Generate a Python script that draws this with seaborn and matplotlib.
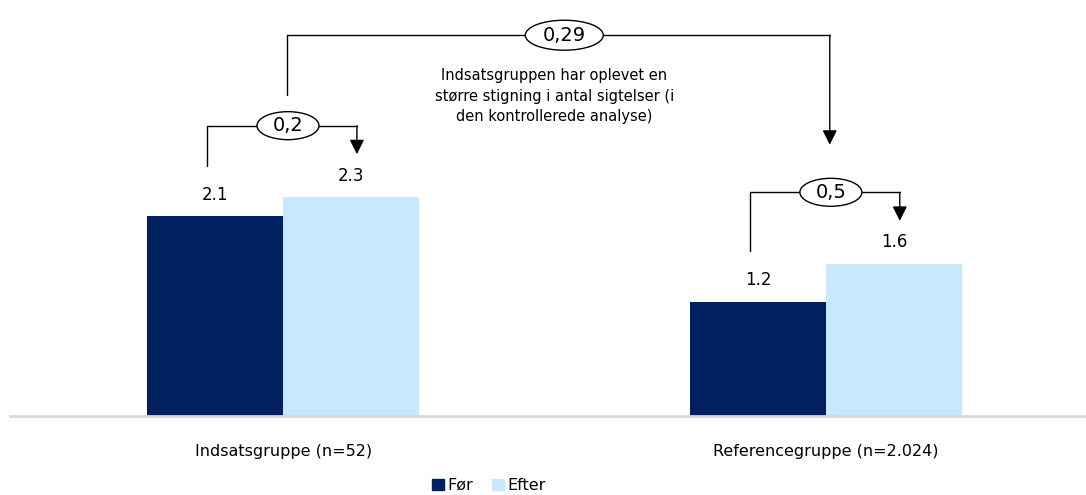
import pandas as pd
import matplotlib.pyplot as plt
import seaborn as sns
from matplotlib.patches import Ellipse

# Data
groups = ["Indsatsgruppe (n=52)", "Referencegruppe (n=2.024)"]
before = [2.1, 1.2]
after = [2.3, 1.6]
group_diffs = ["0,2", "0,5"]
total_diff = "0,29"
note = "Indsatsgruppen har oplevet en\nstørre stigning i antal sigtelser (i\nden kontrollerede analyse)"
periods = ["Før", "Efter"]

sns.set_style("white")
plt.rcParams['font.family'] = ['DejaVu Sans']
plt.rcParams['text.color'] = 'black'
plt.rcParams['xtick.color'] = 'black'

df = pd.DataFrame({
    "gruppe": groups * 2,
    "periode": [periods[0]] * len(groups) + [periods[1]] * len(groups),
    "vaerdi": before + after,
})

fig = plt.figure(figsize=(10.86, 4.95), dpi=100)
ax = fig.add_axes([10 / 1086, 79 / 495, 1 - 10 / 1086, 416 / 495])

sns.barplot(data=df, x="gruppe", y="vaerdi", hue="periode", order=groups,
            hue_order=periods, palette=["#002060", "#C8E8FB"], width=0.5,
            gap=0, saturation=1, linewidth=0, ax=ax, legend=False)

for cont in ax.containers:
    ax.bar_label(cont, labels=[f"{v:.1f}" for v in cont.datavalues],
                 padding=9, fontsize=12, color="black")

ax.set_xlim(-0.503, 1.479)
ax.set_ylim(0, 4.37)
ax.set_xlabel("")
ax.set_ylabel("")
ax.set_yticks([])
ax.tick_params(axis="x", length=0, labelsize=11.5, pad=20, labelcolor="black")
for side in ["top", "right", "left"]:
    ax.spines[side].set_visible(False)
ax.spines["bottom"].set_color("#D9D9D9")
ax.spines["bottom"].set_linewidth(2)

# unit sizes for ellipses (data units per pixel)
px_x = 1 / 543
px_y = 1 / 95.2


def bracket(x0, x1, y_start, y_top, y_end, label, ew, eh, fs):
    ax.plot([x0, x0, x1, x1], [y_start, y_top, y_top, y_top], color="black", lw=1)
    ax.annotate("", xy=(x1, y_end), xytext=(x1, y_top),
                arrowprops=dict(arrowstyle="-|>", color="black", lw=1,
                                mutation_scale=22, shrinkA=0, shrinkB=0))
    xc = (x0 + x1) / 2 + 6 * px_x
    ax.add_patch(Ellipse((xc, y_top), ew * px_x, eh * px_y, facecolor="white",
                         edgecolor="black", lw=1, zorder=5))
    ax.text(xc, y_top, label, ha="center", va="center", fontsize=fs, zorder=6)


for i in range(len(groups)):
    bracket(i - 0.14, i + 0.136, before[i] + 0.53, after[i] + 0.75,
            after[i] + 0.45, group_diffs[i], 62, 28, 14)

bracket(0.007, 1.007, 3.37, 4.0, 2.85, total_diff, 78, 30, 14)
ax.text(0.5, 3.36, note, ha="center", va="center", fontsize=10.5, linespacing=1.45)

handles = [plt.Rectangle((0, 0), 1, 1, color=c) for c in ["#002060", "#C8E8FB"]]
fig.legend(handles, periods, loc="lower center", bbox_to_anchor=(0.45, -0.025),
           ncol=2, frameon=False, fontsize=11.5, handlelength=0.75,
           handleheight=0.75, handletextpad=0.2, columnspacing=1.2)

fig.savefig("out.png", dpi=100)
